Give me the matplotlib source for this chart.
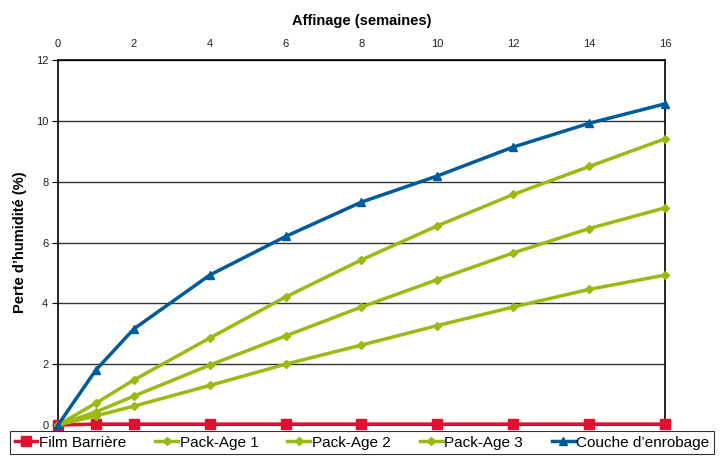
import numpy as np
import matplotlib
matplotlib.use('Agg')
from matplotlib import pyplot as plt

plt.rcParams['font.family'] = ['Liberation Sans', 'DejaVu Sans']

weeks = [0, 1, 2, 4, 6, 8, 10, 12, 14, 16]
film = [0.0, 0.03, 0.03, 0.03, 0.03, 0.03, 0.03, 0.03, 0.03, 0.03]
pack1 = [0.0, 0.72, 1.48, 2.86, 4.21, 5.43, 6.55, 7.58, 8.50, 9.41]
pack2 = [0.0, 0.43, 0.95, 1.97, 2.93, 3.88, 4.78, 5.66, 6.46, 7.14]
pack3 = [0.0, 0.30, 0.62, 1.30, 2.00, 2.63, 3.27, 3.88, 4.46, 4.93]
couche = [0.0, 1.81, 3.16, 4.93, 6.20, 7.33, 8.19, 9.14, 9.92, 10.56]

labels = ['Film Barrière', 'Pack-Age 1', 'Pack-Age 2', 'Pack-Age 3', "Couche d\u2019enrobage"]
series = [film, pack1, pack2, pack3, couche]
colors = ['#E2102E', '#99BB11', '#99BB11', '#99BB11', '#005B9A']
markers = ['s', 'D', 'D', 'D', '^']
msizes = [7, 4.5, 4.5, 4.5, 6]

fig = plt.figure(figsize=(7.24, 4.57), dpi=100)
ax = fig.add_axes([0.0801, 0.070, 0.8384, 0.7986])

for ys, lab, c, m, ms in zip(series, labels, colors, markers, msizes):
    ax.plot(weeks, ys, color=c, marker=m, markersize=ms, linewidth=2.5,
            label=lab, clip_on=False, zorder=3)

ax.set_xlim(0, 16)
ax.set_ylim(0, 12)
ax.set_xticks(range(0, 17, 2))
ax.set_yticks(range(0, 13, 2))
ax.xaxis.tick_top()
ax.xaxis.set_label_position('top')
ax.tick_params(axis='x', length=0, labelsize=8, pad=8, labelcolor='#222222')
ax.tick_params(axis='y', length=4, direction='out', labelsize=8, pad=3, labelcolor='#222222')
ax.set_xlabel('Affinage (semaines)', fontsize=10.5, fontweight='bold', labelpad=10)
ax.set_ylabel('Perte d\u2019humidité (%)', fontsize=10.5, fontweight='bold', labelpad=6)
ax.grid(axis='y', color='#333333', linewidth=1)
for s in ax.spines.values():
    s.set_linewidth(1.2)
    s.set_color('black')

leg = fig.legend(loc='upper center', bbox_to_anchor=(0.5, 0.057), ncol=5,
                 fontsize=11, frameon=True, fancybox=False, edgecolor='black',
                 handlelength=1.5, handletextpad=0.1, columnspacing=1.9,
                 borderpad=0.3, borderaxespad=0)
leg.get_frame().set_linewidth(0.8)

fig.savefig('out.png', dpi=100)
